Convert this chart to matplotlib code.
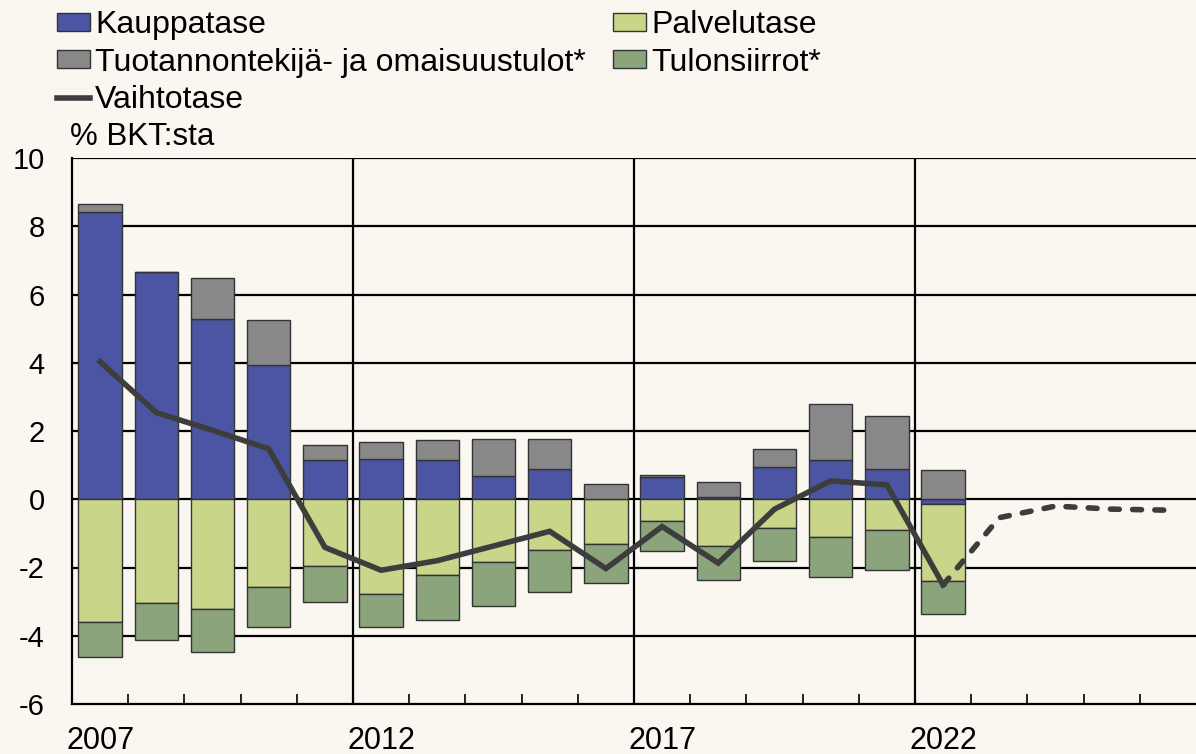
import matplotlib
matplotlib.use("Agg")
import matplotlib.pyplot as plt
import numpy as np
from matplotlib.patches import Patch
from matplotlib.lines import Line2D

plt.rcParams['font.family'] = ['Liberation Sans', 'DejaVu Sans']

years = list(range(2007, 2023))
kauppatase = [8.42, 6.65, 5.27, 3.94, 1.15, 1.19, 1.15, 0.67, 0.89, 0.00, 0.65, 0.08, 0.94, 1.15, 0.89, -0.13]
palvelutase = [-3.61, -3.05, -3.23, -2.58, -1.95, -2.77, -2.22, -1.85, -1.49, -1.30, -0.64, -1.38, -0.83, -1.10, -0.90, -2.26]
tuotannontekija = [0.24, 0.00, 1.22, 1.30, 0.43, 0.48, 0.58, 1.09, 0.87, 0.44, 0.05, 0.42, 0.54, 1.64, 1.56, 0.85]
tulonsiirrot = [-1.02, -1.06, -1.24, -1.17, -1.05, -0.97, -1.32, -1.28, -1.22, -1.15, -0.88, -1.00, -0.97, -1.17, -1.17, -0.96]
vaihtotase_years = list(range(2007, 2023))
vaihtotase = [4.03, 2.54, 2.02, 1.48, -1.41, -2.08, -1.80, -1.37, -0.94, -2.03, -0.80, -1.87, -0.29, 0.54, 0.42, -2.51]
ennuste_years = [2022, 2023, 2024, 2025, 2026]
ennuste = [-2.51, -0.54, -0.20, -0.29, -0.32]
xtick_labels = ['2007', '2012', '2017', '2022']

bg = '#FAF6F0'
c_kaup = '#4B55A3'
c_palv = '#C9D689'
c_tuot = '#888888'
c_tulo = '#8BA47B'
c_line = '#3D3D3D'

fig = plt.figure(figsize=(11.96, 7.54), dpi=100, facecolor=bg)
ax = fig.add_axes([72/1196, 1 - 704/754, 1 - 72/1196, (704 - 158)/754])
ax.set_facecolor(bg)

x = np.array(years, dtype=float)
series = [(kauppatase, c_kaup), (palvelutase, c_palv), (tuotannontekija, c_tuot), (tulonsiirrot, c_tulo)]
pos_base = np.zeros(len(x))
neg_base = np.zeros(len(x))
w = 0.77
for vals, col in series:
    v = np.array(vals)
    bottoms = np.where(v >= 0, pos_base, neg_base)
    ax.bar(x, v, width=w, bottom=bottoms, color=col, edgecolor='#333333', linewidth=1.0, zorder=3)
    pos_base = pos_base + np.where(v >= 0, v, 0)
    neg_base = neg_base + np.where(v < 0, v, 0)

ax.plot(vaihtotase_years, vaihtotase, color=c_line, lw=4.0, zorder=5, solid_joinstyle='miter')
ax.plot(ennuste_years, ennuste, color=c_line, lw=4.0, zorder=5, dashes=(1.6, 2.4), dash_capstyle='round')

ax.set_xlim(2006.5, 2026.5)
ax.set_ylim(-6, 10)

for yv in range(-4, 11, 2):
    ax.axhline(yv, color='black', lw=1.6, zorder=1)
for xv in [2011.5, 2016.5, 2021.5]:
    ax.axvline(xv, color='black', lw=1.6, zorder=1)

ax.set_yticks(range(-6, 11, 2))
ax.set_yticklabels([str(v) for v in range(-6, 11, 2)], fontsize=21)
ax.tick_params(axis='y', length=0, pad=19.5)

ax.set_xticks([2007, 2012, 2017, 2022])
ax.set_xticklabels(xtick_labels, fontsize=22)
ax.tick_params(axis='x', which='major', length=0, pad=16)
ax.set_xticks(np.arange(2007.5, 2026.5, 1.0), minor=True)
ax.tick_params(axis='x', which='minor', direction='in', length=7, width=1.2, color='black')

for s in ['top', 'right']:
    ax.spines[s].set_visible(False)
ax.spines['left'].set_linewidth(1.6)
ax.spines['bottom'].set_linewidth(1.6)

fig.text(70/1196, 1 - 137/754, '% BKT:sta', fontsize=22.5, va='center', ha='left')

handles = [
    Patch(facecolor=c_kaup, edgecolor='#333333', lw=1.0),
    Patch(facecolor=c_tuot, edgecolor='#333333', lw=1.0),
    Line2D([], [], color=c_line, lw=4.0),
    Patch(facecolor=c_palv, edgecolor='#333333', lw=1.0),
    Patch(facecolor=c_tulo, edgecolor='#333333', lw=1.0),
]
labels = ['Kauppatase', 'Tuotannontekijä- ja omaisuustulot*', 'Vaihtotase', 'Palvelutase', 'Tulonsiirrot*']
fig.legend(handles, labels, ncol=2, loc='upper left', bbox_to_anchor=(57/1196, 1 - 10/754),
           frameon=False, fontsize=23, handlelength=1.03, handleheight=0.5,
           handletextpad=0.16, labelspacing=0.24, columnspacing=0.85, borderpad=0.0,
           borderaxespad=0.0)

fig.savefig('out.png', dpi=100, facecolor=bg)
